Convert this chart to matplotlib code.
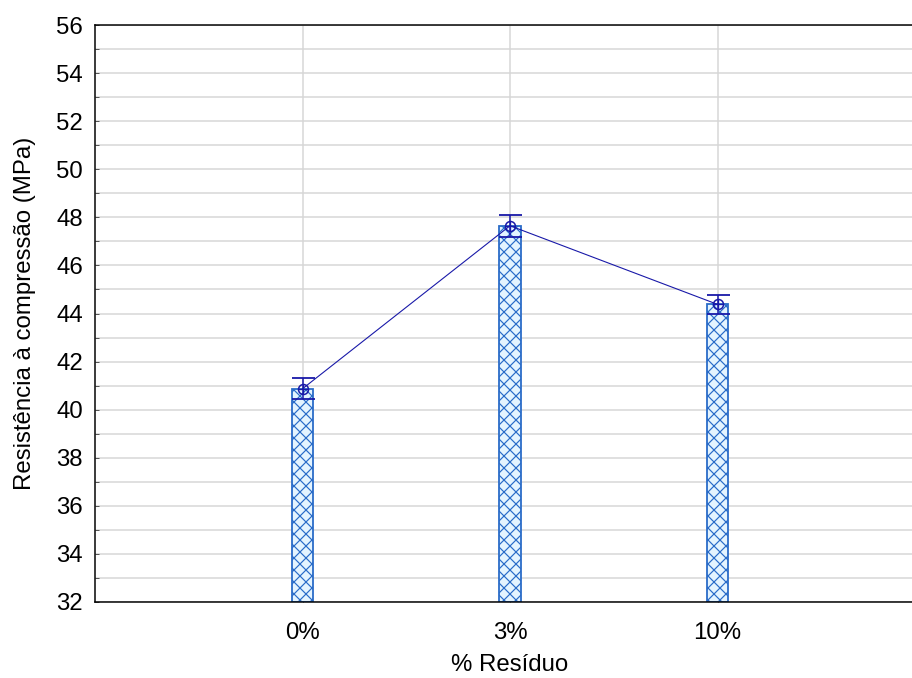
import numpy as np
import matplotlib
matplotlib.use("Agg")
import matplotlib.pyplot as plt
from matplotlib.ticker import MultipleLocator

# compressive strength per residue content (mean and half-width of error bar)
categories = ["0%", "3%", "10%"]
strength = [40.87, 47.65, 44.38]
strength_err = [0.43, 0.45, 0.40]

plt.rcParams["font.family"] = ["Liberation Sans", "DejaVu Sans"]
plt.rcParams["hatch.linewidth"] = 1.2

fig = plt.figure(figsize=(912 / 72, 678 / 72), dpi=72)
ax = fig.add_axes([95 / 912, 76 / 678, 830 / 912, 577 / 678])

x = np.arange(1, len(categories) + 1)

# hatched bars behind the mean line
ax.bar(x, [v - 32 for v in strength], bottom=32, width=0.106,
       facecolor="#e4f4ff", edgecolor="#2a6cc8", hatch="xx",
       linewidth=1.8, zorder=2)

# mean line with error bars
ax.errorbar(x, strength, yerr=strength_err, color="#1818a8", linewidth=1.1,
            elinewidth=1.5, capsize=11.5, capthick=1.8, zorder=4)
ax.plot(x, strength, "o", markersize=10, markerfacecolor="none",
        markeredgecolor="#1818a8", markeredgewidth=1.5, zorder=5)
ax.plot(x, strength, "+", markersize=10, color="#1818a8",
        markeredgewidth=1.3, zorder=5)

ax.set_xlim(0, 4)
ax.set_ylim(32, 56)
ax.set_xticks(x)
ax.set_xticklabels(categories)
ax.yaxis.set_major_locator(MultipleLocator(2))
ax.yaxis.set_minor_locator(MultipleLocator(1))

ax.grid(True, which="both", axis="y", color="#d6d6d6", linewidth=1.5, zorder=0)
ax.grid(True, which="major", axis="x", color="#d6d6d6", linewidth=1.5, zorder=0)
ax.set_axisbelow(True)

ax.tick_params(axis="both", which="both", direction="in", length=4,
               color="#555555", width=1)
ax.tick_params(axis="y", labelsize=24, pad=12)
ax.tick_params(axis="x", labelsize=24, pad=20)

for side in ("left", "bottom", "top"):
    ax.spines[side].set_linewidth(1.5)
    ax.spines[side].set_color("black")
ax.spines["right"].set_visible(False)

ax.set_xlabel("% Resíduo", fontsize=24, labelpad=10)
ax.set_ylabel("Resistência à compressão (MPa)", fontsize=24, labelpad=20)

fig.savefig("out.png", dpi=72)
